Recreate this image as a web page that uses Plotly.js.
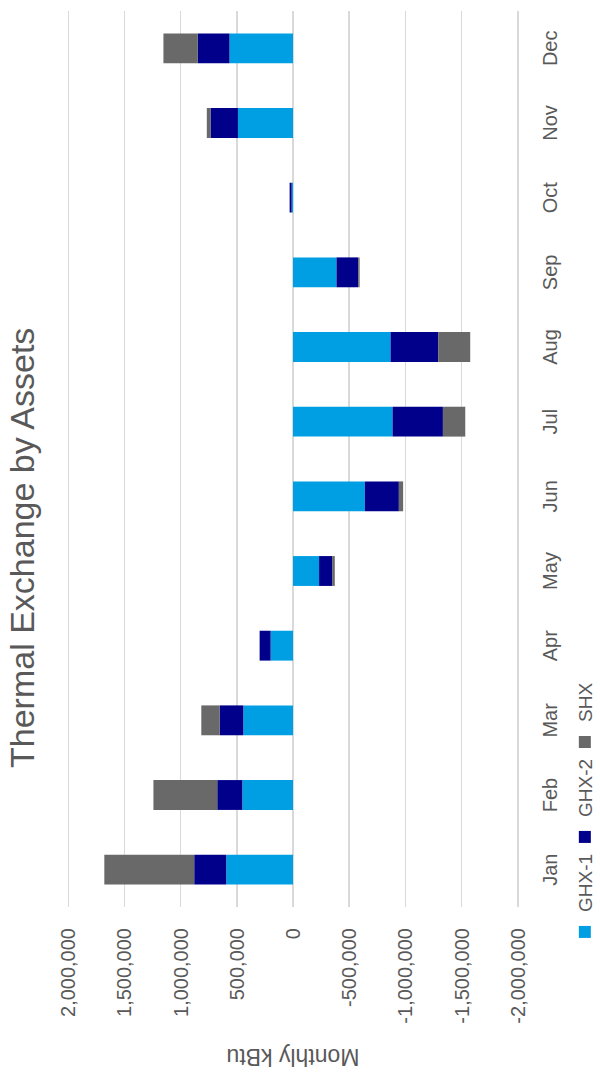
<!DOCTYPE html>
<html>
<head>
<meta charset="utf-8">
<script src="https://cdn.plot.ly/plotly-3.0.1.min.js"></script>
<style>
  html, body { margin: 0; padding: 0; background: #fff; overflow: hidden; width: 600px; height: 1072px; }
  #chart { position: absolute; left: 0; top: 0; width: 1072px; height: 600px;
           transform-origin: 0 0; transform: translate(0px, 1072px) rotate(-90deg); }
</style>
</head>
<body>
<div id="chart"></div>
<script>
const months = ["Jan","Feb","Mar","Apr","May","Jun","Jul","Aug","Sep","Oct","Nov","Dec"];
const ghx1 = [594000, 451000, 442000, 199000, -232000, -639000, -886000, -868000, -387000, 12000, 490000, 565000];
const ghx2 = [285000, 223000, 211000, 98000, -116000, -303000, -448000, -424000, -193000, 18000, 244000, 282000];
const shx  = [800000, 568000, 163000, 0, -24000, -38000, -199000, -285000, -13000, 0, 33000, 306000];
const seriesNames = ["GHX-1", "GHX-2", "SHX"];
const seriesColors = ["#009fe3", "#00008b", "#696969"];
const valueTicks = [-2000000, -1500000, -1000000, -500000, 0, 500000, 1000000, 1500000, 2000000];
const valueTickText = ["-2,000,000","-1,500,000","-1,000,000","-500,000","0","500,000","1,000,000","1,500,000","2,000,000"];

const FONT = "Liberation Sans, Arial, sans-serif";
const GREY = "#595959";

const traces = [ghx1, ghx2, shx].map((vals, i) => ({
  type: "bar",
  name: seriesNames[i],
  x: months,
  y: vals,
  marker: { color: seriesColors[i], line: { width: 0 } },
  hoverinfo: "skip"
}));

const layout = {
  width: 1072,
  height: 600,
  margin: { l: 165, r: 11, t: 66, b: 80 },
  paper_bgcolor: "#ffffff",
  plot_bgcolor: "#ffffff",
  barmode: "relative",
  bargap: 0.6,
  font: { family: FONT, color: GREY, size: 20 },
  title: {
    text: "Thermal Exchange by Assets",
    font: { family: FONT, size: 34, color: GREY },
    xref: "container", yref: "container",
    x: 0.489, xanchor: "center",
    y: 0.963, yanchor: "middle"
  },
  xaxis: {
    type: "category",
    categoryorder: "array",
    categoryarray: months,
    showgrid: false,
    showline: false,
    zeroline: false,
    ticks: "",
    ticklabelstandoff: 16,
    tickfont: { family: FONT, size: 20, color: GREY },
    fixedrange: true
  },
  yaxis: {
    range: [-2020000, 2020000],
    tickmode: "array",
    tickvals: valueTicks,
    ticktext: valueTickText,
    showgrid: true,
    gridcolor: "#d9d9d9",
    gridwidth: 1.5,
    zeroline: true,
    zerolinecolor: "#d9d9d9",
    zerolinewidth: 1.5,
    showline: false,
    ticks: "",
    ticklabelstandoff: 20,
    tickfont: { family: FONT, size: 20, color: GREY },
    title: { text: "Monthly kBtu", font: { family: FONT, size: 23, color: GREY }, standoff: 18 },
    fixedrange: true
  },
  showlegend: true,
  legend: {
    orientation: "h",
    xref: "container", yref: "container",
    x: 0.112, xanchor: "left",
    y: 0.025, yanchor: "middle",
    font: { family: FONT, size: 19, color: GREY },
    traceorder: "normal",
    itemwidth: 30,
    entrywidth: 50,
    bgcolor: "rgba(0,0,0,0)"
  }
};

Plotly.newPlot("chart", traces, layout, { displayModeBar: false, staticPlot: true });
</script>
</body>
</html>
